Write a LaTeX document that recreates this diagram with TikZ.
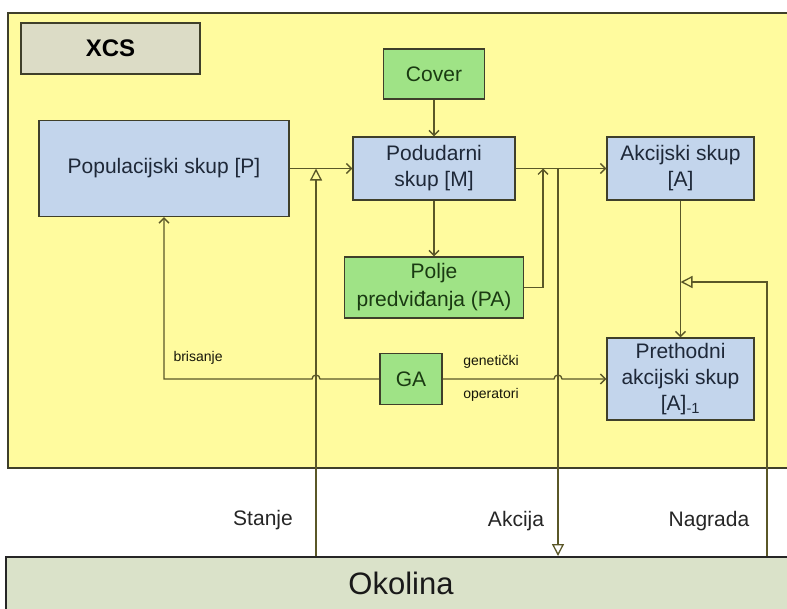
\documentclass[tikz,border=0pt]{standalone}
\usepackage{fontspec}
\setmainfont{Liberation Sans}
\usetikzlibrary{arrows.meta,calc}

\definecolor{bgyellow}{HTML}{FFFB9E}
\definecolor{boxblue}{HTML}{C3D5EC}
\definecolor{boxgreen}{HTML}{9FE386}
\definecolor{titlegrey}{HTML}{DCDCC6}
\definecolor{envgreen}{HTML}{DAE2C9}
\definecolor{wire}{HTML}{5A5728}
\definecolor{edge}{HTML}{3F3F2A}
\definecolor{bluetext}{HTML}{1E2838}
\definecolor{greentext}{HTML}{1A3A12}

\begin{document}
\begin{tikzpicture}[x=1pt,y=-1pt,
  box/.style={draw=edge,line width=1.4pt,inner sep=0pt,align=center,
    font=\fontsize{21}{26}\selectfont},
  bluebox/.style={box,fill=boxblue,text=bluetext},
  greenbox/.style={box,fill=boxgreen,text=greentext},
  wireline/.style={draw=wire,line width=1.3pt},
  arr/.style={wireline,-{Straight Barb[length=5pt,width=10pt]}},
  tri/.style={wireline,-{Triangle[open,length=12pt,width=12pt]}},
  note/.style={font=\fontsize{14}{17}\selectfont,text=black!75!wire},
  envlabel/.style={font=\fontsize{21}{25}\selectfont,text=black!85}]

\useasboundingbox (0,0) rectangle (787,608);
\fill[white] (0,0) rectangle (787,608);

% system area
\draw[draw=edge,line width=1.6pt,fill=bgyellow] (8,13) rectangle (800,468);

% boxes
\node[box,fill=titlegrey,text=black,minimum width=179,minimum height=51,
  font=\fontsize{24}{28}\selectfont\bfseries] (xcs) at (110.5,48.5) {XCS};
\node[bluebox,minimum width=250,minimum height=96] (P) at (164,168.5)
  {Populacijski skup [P]};
\node[bluebox,minimum width=162,minimum height=63] (M) at (434,168.5)
  {Podudarni\\skup [M]};
\node[greenbox,minimum width=101,minimum height=50] (cover) at (434,74)
  {Cover};
\node[bluebox,minimum width=147,minimum height=63] (A) at (680.5,168.5)
  {Akcijski skup\\{}[A]};
\node[greenbox,minimum width=179,minimum height=61] (PA) at (434,287.5)
  {Polje\\[2pt]predviđanja (PA)};
\node[greenbox,minimum width=62,minimum height=51] (GA) at (411,379) {GA};
\node[bluebox,minimum width=147,minimum height=82] (pre) at (680.5,379)
  {Prethodni\\akcijski skup\\{}[A]\textsubscript{-1}};

% environment
\node[draw=black!85,line width=2pt,fill=envgreen,minimum width=794,
  minimum height=55,inner sep=0pt,text=black!90,
  font=\fontsize{31}{36}\selectfont] (env) at (403,584.5) {};
\node[text=black!90,font=\fontsize{31}{36}\selectfont] (envtxt) at (401,583) {Okolina};

% junction points on the main lines
\coordinate (stanje) at (316,168.5);
\coordinate (mjoin) at (543,168.5);
\coordinate (akcija) at (558,168.5);
\coordinate (nagrada) at (767,282);

% connectors
\draw[arr] (cover) -- (M);
\draw[arr] (M) -- (PA);
\draw[arr] (P) -- (M);
\draw[arr] (M) -- (A);
\draw[arr] (A) -- (pre);
\draw[arr] (PA.east) -| (mjoin);
\draw[tri] (stanje |- env.north) -- (stanje);
\draw[tri] (akcija) -- (akcija |- env.north);
\draw[tri] (nagrada |- env.north) -- (nagrada) -- (nagrada -| A.south);
\draw[arr] (GA.west) -- ($(stanje |- GA.west)+(4,0)$)
  arc[start angle=0,end angle=-180,radius=4]
  -- (P.south |- GA.west) -- (P.south);
\draw[arr] (GA.east) -- ($(akcija |- GA.east)+(-4,0)$)
  arc[start angle=180,end angle=360,radius=4] -- (pre.west);

% labels
\node[note,anchor=west] (brisanje) at (170,358) {brisanje};
\node[note] (genetski) at (491,362) {genetički};
\node[note] (operatori) at (491,395) {operatori};
\node[envlabel] (lstanje) at (263,520) {Stanje};
\node[envlabel] (lakcija) at (516,521) {Akcija};
\node[envlabel] (lnagrada) at (709,521) {Nagrada};
\end{tikzpicture}
\end{document}
